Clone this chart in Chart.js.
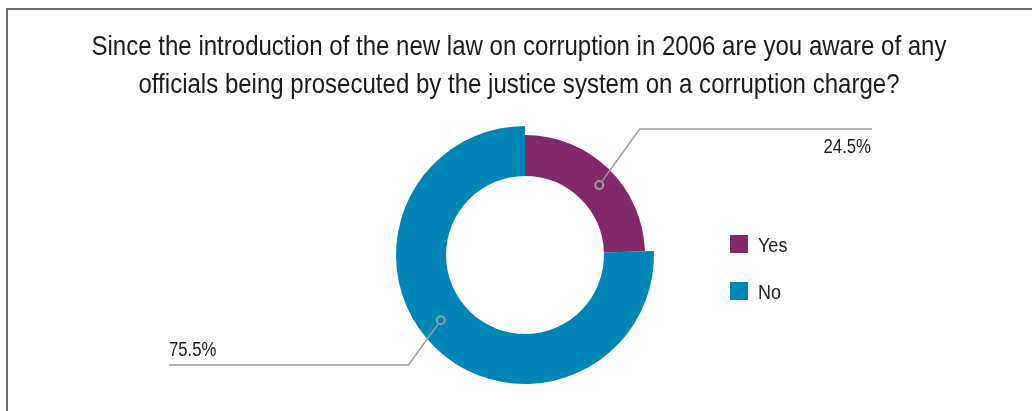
<!DOCTYPE html>
<html>
<head>
<meta charset="utf-8">
<script src="https://cdn.jsdelivr.net/npm/chart.js@4.4.1/dist/chart.umd.min.js"></script>
<style>
  html, body { margin: 0; padding: 0; background: #fff; }
  #wrap { position: relative; width: 1032px; height: 411px; overflow: hidden; }
  #frame { position: absolute; left: 6px; top: 8px; width: 1100px; height: 500px;
           border-top: 2px solid #6e6e6e; border-left: 2px solid #6e6e6e; }
  canvas { position: absolute; left: 0; top: 0; }
</style>
</head>
<body>
<div id="wrap">
  <div id="frame"></div>
  <canvas id="c" width="1032" height="411"></canvas>
</div>
<script>
const titleLines = [
  'Since the introduction of the new law on corruption in 2006 are you aware of any',
  'officials being prosecuted by the justice system on a corruption charge?'
];
const categories = ['Yes', 'No'];
const shares = [24.5, 75.5];
const colors = ['#832869', '#0086B6'];

const FONT = '"Liberation Sans", Arial, sans-serif';
const TEXT = '#1a1a1a';

// condensed text: draw with a horizontal squeeze around the anchor (alphabetic baseline)
function narrowText(ctx, text, x, y, size, align, squeeze) {
  ctx.save();
  ctx.font = size + 'px ' + FONT;
  ctx.fillStyle = TEXT;
  ctx.textBaseline = 'alphabetic';
  ctx.textAlign = align;
  ctx.translate(x, y);
  ctx.scale(squeeze, 1);
  ctx.fillText(text, 0, 0);
  ctx.restore();
}

const overlay = {
  id: 'overlay',
  beforeDatasetsDraw(chart) {
    // the first slice sits slightly inside the outer rim
    const meta = chart.getDatasetMeta(0);
    const ctrl = meta.controller;
    meta.data[0].outerRadius = ctrl.outerRadius - 9;
    meta.data[1].outerRadius = ctrl.outerRadius;
  },
  afterDraw(chart) {
    const ctx = chart.ctx;
    const meta = chart.getDatasetMeta(0);

    // title, squeezed to a condensed face
    ctx.save();
    ctx.font = '28px ' + FONT;
    const squeeze = 855 / ctx.measureText(titleLines[0]).width;
    ctx.restore();
    narrowText(ctx, titleLines[0], 519, 55, 28, 'center', squeeze);
    narrowText(ctx, titleLines[1], 519, 93, 28, 'center', squeeze);

    // leader lines and value labels
    const cx = meta.data[0].x, cy = meta.data[0].y;
    const R = meta.controller.outerRadius;
    meta.data.forEach((arc, i) => {
      const a = arc.startAngle + (arc.endAngle - arc.startAngle) * 0.53;
      const r = (arc.innerRadius + arc.outerRadius) / 2 + 2.5;
      const mx = arc.x + Math.cos(a) * r;
      const my = arc.y + Math.sin(a) * r;
      const right = Math.cos(a) >= 0;
      const lineY = right ? cy - R + 3 : cy + R - 19;
      const ex = mx + (right ? 1 : -1) * Math.abs(my - lineY) * 0.72;
      const endX = right ? cx + 347 : cx - 356;

      ctx.save();
      ctx.strokeStyle = '#9a9a9a';
      ctx.lineWidth = 1.5;
      ctx.beginPath();
      const ux = (ex - mx), uy = (lineY - my);
      const len = Math.hypot(ux, uy);
      ctx.moveTo(mx + ux / len * 4, my + uy / len * 4);
      ctx.lineTo(ex, lineY);
      ctx.lineTo(endX, lineY);
      ctx.stroke();
      ctx.lineWidth = 2;
      ctx.beginPath();
      ctx.arc(mx, my, 4, 0, Math.PI * 2);
      ctx.stroke();
      ctx.restore();

      const txt = shares[i].toFixed(1) + '%';
      narrowText(ctx, txt, right ? endX - 1 : endX, right ? lineY + 24 : lineY - 9,
                 19.5, right ? 'right' : 'left', squeeze);
    });

    // legend
    categories.forEach((name, i) => {
      const y = 244 + i * 47;
      ctx.fillStyle = colors[i];
      ctx.fillRect(730, y - 9, 18, 18);
      narrowText(ctx, name, 758, y + 8, 21, 'left', squeeze);
    });
  }
};

new Chart(document.getElementById('c'), {
  type: 'doughnut',
  data: {
    labels: categories,
    datasets: [{
      data: shares,
      backgroundColor: colors,
      borderWidth: 0
    }]
  },
  options: {
    responsive: false,
    animation: false,
    cutout: '61.2%',
    layout: { padding: { top: 126, bottom: 27, left: 396, right: 378 } },
    plugins: {
      legend: { display: false },
      title: { display: false },
      tooltip: { enabled: false }
    }
  },
  plugins: [overlay]
});
</script>
</body>
</html>
